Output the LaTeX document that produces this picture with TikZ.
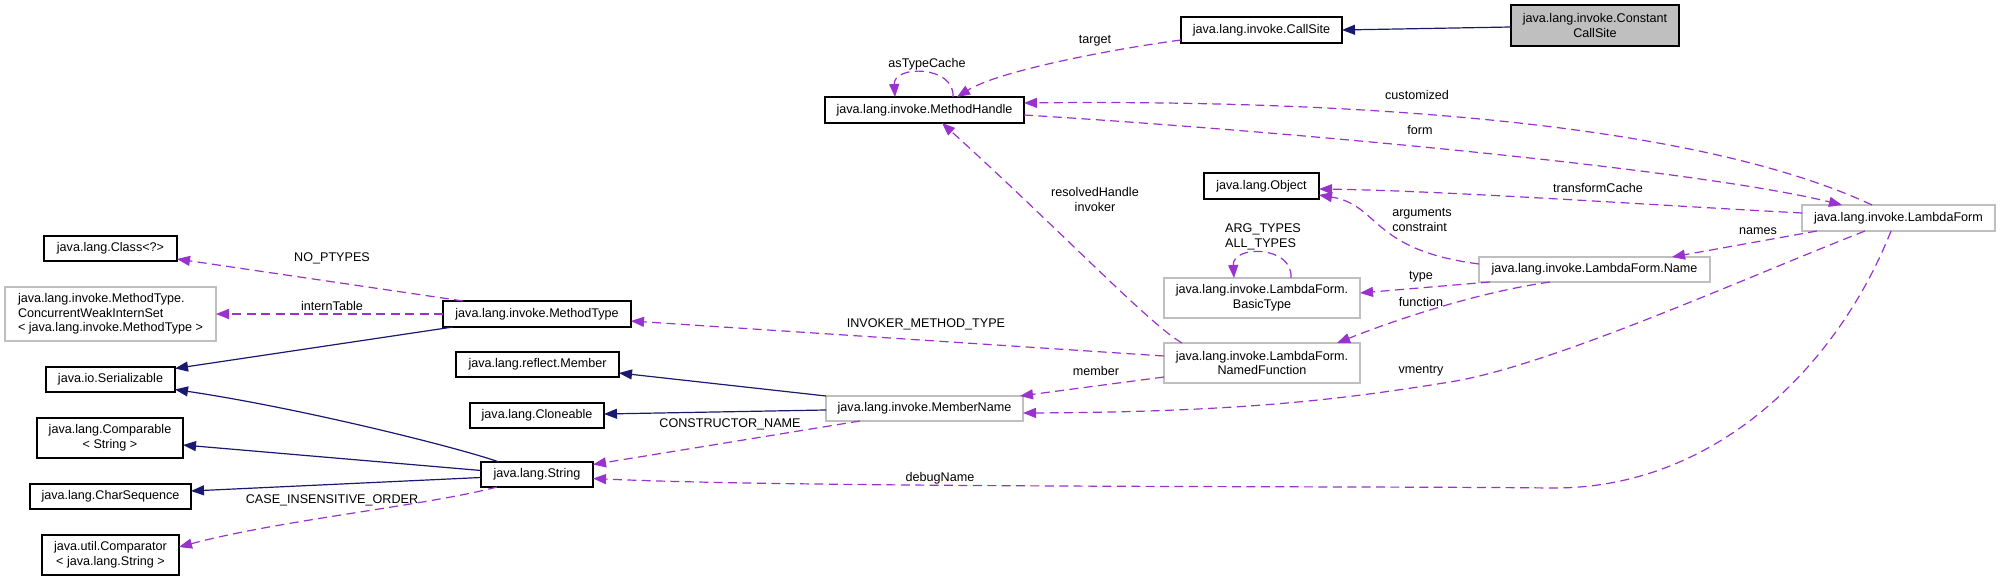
\documentclass[tikz,border=0pt]{standalone}
\usepackage{fontspec}
\setmainfont{Liberation Sans}
\usetikzlibrary{arrows.meta,calc}
\definecolor{navyc}{HTML}{191970}
\definecolor{depc}{HTML}{9A32CD}
\definecolor{grayb}{HTML}{BFBFBF}
\definecolor{grayf}{HTML}{BFBFBF}
\begin{document}
\begin{tikzpicture}[x=0.5pt,y=-0.5pt,
  every node/.style={font=\fontsize{6.3}{7.3}\selectfont, inner sep=0pt, outer sep=0pt},
  box/.style={draw=black, line width=0.55pt, fill=white, align=center},
  gbox/.style={draw=grayb, line width=0.6pt, fill=white, align=center},
  sz/.style 2 args={minimum width=#1*0.5pt, minimum height=#2*0.5pt},
  inh/.style={draw=navyc, line width=0.6pt, -{Triangle[length=6.5pt,width=5pt]}},
  dep/.style={draw=depc, line width=0.6pt, dash pattern=on 4.5pt off 2.7pt, -{Triangle[length=6.5pt,width=5pt]}},
  lbl/.style={text=black, align=center}
]
\fill[white] (0,0) rectangle (2000,581);
\useasboundingbox (0,0) rectangle (2000,581);

% nodes
\node[box,sz={168}{41},fill=grayf] (ccs) at (1595,25.5) {java.lang.invoke.Constant\\CallSite};
\node[box,sz={161}{26}] (cs) at (1261.5,30) {java.lang.invoke.CallSite};
\node[box,sz={199}{26}] (mh) at (924.5,110) {java.lang.invoke.MethodHandle};
\node[box,sz={115}{26}] (obj) at (1261.5,186) {java.lang.Object};
\node[gbox,sz={193}{26}] (lf) at (1898.5,218) {java.lang.invoke.LambdaForm};
\node[box,sz={133}{25}] (cls) at (110.5,248.5) {java.lang.Class<?>};
\node[gbox,sz={211}{54},align=left] (cwis) at (110.5,314) {java.lang.invoke.MethodType.\\ConcurrentWeakInternSet\\< java.lang.invoke.MethodType >};
\node[gbox,sz={231}{25}] (lfn) at (1594.5,269.5) {java.lang.invoke.LambdaForm.Name};
\node[gbox,sz={196}{40}] (bt) at (1262,298) {java.lang.invoke.LambdaForm.\\BasicType};
\node[box,sz={188}{26}] (mt) at (537,314) {java.lang.invoke.MethodType};
\node[box,sz={129}{25}] (ser) at (110.5,379.5) {java.io.Serializable};
\node[box,sz={163}{25}] (mem) at (537.5,364.5) {java.lang.reflect.Member};
\node[gbox,sz={196}{40}] (nf) at (1262,363) {java.lang.invoke.LambdaForm.\\NamedFunction};
\node[box,sz={134}{25}] (clo) at (537,415.5) {java.lang.Cloneable};
\node[gbox,sz={197}{25}] (mn) at (924.5,408.5) {java.lang.invoke.MemberName};
\node[box,sz={146}{40}] (cmp) at (110,438) {java.lang.Comparable\\< String >};
\node[box,sz={112}{25}] (str) at (537,474.5) {java.lang.String};
\node[box,sz={161}{25}] (csq) at (110.5,496.5) {java.lang.CharSequence};
\node[box,sz={137}{40}] (cmpr) at (110.5,555) {java.util.Comparator\\< java.lang.String >};

% inheritance edges
\draw[inh] ($(ccs.west)+(0,1.5)$) -- (cs.east);
\draw[inh] ($(mt.south west)+(10,0)$) -- ($(ser.east)+(0,-11)$);
\draw[inh] ($(str.north west)+(18,0)$) .. controls (460,448) and (300,408) .. ($(ser.east)+(0,10)$);
\draw[inh] ($(str.west)+(0,-4)$) -- ($(cmp.east)+(0,7)$);
\draw[inh] ($(str.west)+(0,3)$) -- ($(csq.east)+(0,-5.5)$);
\draw[inh] (mn.north west) -- ($(mem.east)+(0,8.5)$);
\draw[inh] ($(mn.west)+(0,1.5)$) -- ($(clo.east)+(0,-1.5)$);

% usage edges
\draw[dep] ($(cs.west)+(0,10)$) .. controls (1120,48) and (1000,70) .. ($(mh.north west)+(132,0)$);
\draw[dep] ($(mh.north west)+(128,0)$) .. controls (955,65) and (893,65) .. ($(mh.north west)+(70,0)$);
\draw[dep] ($(lf.north)+(-26.5,0)$) .. controls (1680,115) and (1300,100) .. ($(mh.east)+(0,-7)$);
\draw[dep] ($(mh.east)+(0,5)$) .. controls (1300,132) and (1700,170) .. ($(lf.north)+(-56.5,0)$);
\draw[dep] ($(lf.west)+(0,-5)$) .. controls (1650,205) and (1450,191) .. ($(obj.east)+(0,3)$);
\draw[dep] ($(lf.south west)+(15,0)$) -- ($(lfn.north east)+(-38,0)$);
\draw[dep] ($(lfn.west)+(0,-5.5)$) .. controls (1370,250) and (1380,205) .. ($(obj.south east)+(0,-4)$);
\draw[dep] ($(lfn.south west)+(11,0)$) -- ($(bt.east)+(0,-5)$);
\draw[dep] ($(lfn.south)+(-44.5,0)$) .. controls (1480,292) and (1400,318) .. ($(nf.north east)+(-23,0)$);
\draw[dep] ($(bt.north west)+(127,0)$) .. controls (1293,245) and (1232,245) .. ($(bt.north west)+(70,0)$);
\draw[dep] ($(nf.north west)+(18,0)$) .. controls (1150,325) and (1060,230) .. ($(mh.south west)+(117,0)$);
\draw[dep] ($(nf.west)+(0,-7)$) -- ($(mt.east)+(0,7)$);
\draw[dep] ($(nf.south west)+(0,-6)$) -- ($(mn.north east)+(-3,0)$);
\draw[dep] ($(lf.south)+(-33.5,0)$) .. controls (1740,280) and (1550,366) .. (1450,382) .. controls (1350,398) and (1250,412) .. ($(mn.east)+(0,4.5)$);
\draw[dep] ($(lf.south)+(-7.5,0)$) .. controls (1840,360) and (1720,490) .. (1550,488) .. controls (1380,486) and (800,488) .. ($(str.east)+(0,4)$);
\draw[dep] ($(mn.south west)+(34,0)$) -- ($(str.east)+(0,-10)$);
\draw[dep] ($(str.south west)+(16,0)$) .. controls (430,505) and (280,520) .. ($(cmpr.east)+(0,-8)$);
\draw[dep] ($(mt.north west)+(20,0)$) -- ($(cls.east)+(0,10.5)$);
\draw[dep] (mt.west) -- (cwis.east);

% labels
\node[lbl] (l1) at (1095,41) {target};
\node[lbl] (l2) at (927,64) {asTypeCache};
\node[lbl] (l3) at (1417,95) {customized};
\node[lbl] (l4) at (1420,130) {form};
\node[lbl] (l5) at (1598,188) {transformCache};
\node[lbl] (l6) at (1758,231) {names};
\node[lbl,align=left] (l7) at (1422,220) {arguments\\constraint};
\node[lbl] (l8) at (1421,277) {type};
\node[lbl] (l9) at (1421,302) {function};
\node[lbl,align=left] (l10) at (1263,237) {ARG\_TYPES\\ALL\_TYPES};
\node[lbl] (l11) at (1095,199.5) {resolvedHandle\\invoker};
\node[lbl] (l12) at (926,324) {INVOKER\_METHOD\_TYPE};
\node[lbl] (l13) at (1096,371) {member};
\node[lbl] (l14) at (1421,371) {vmentry};
\node[lbl] (l15) at (940,478) {debugName};
\node[lbl] (l16) at (730,424) {CONSTRUCTOR\_NAME};
\node[lbl] (l17) at (332,500) {CASE\_INSENSITIVE\_ORDER};
\node[lbl] (l18) at (332,258) {NO\_PTYPES};
\node[lbl] (l19) at (332,306) {internTable};
\end{tikzpicture}
\end{document}
